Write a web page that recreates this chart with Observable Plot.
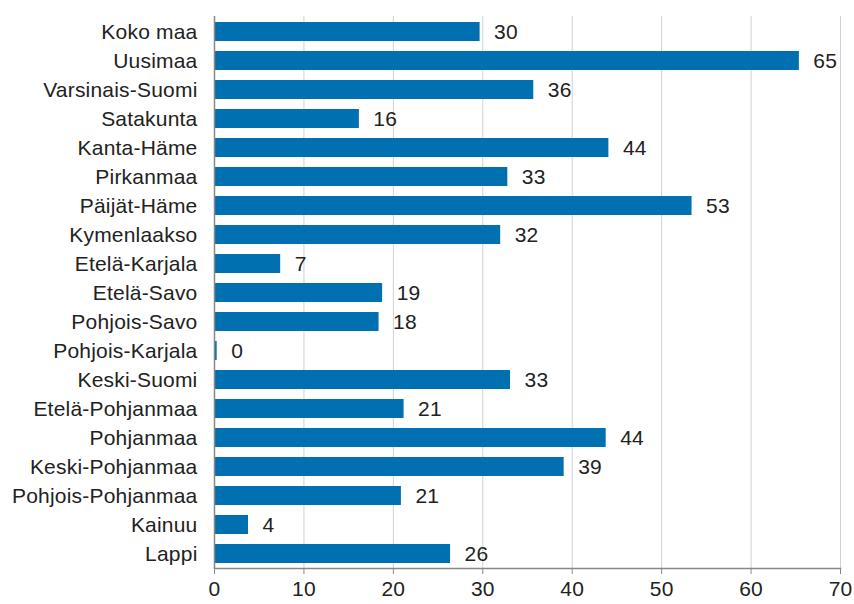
<!DOCTYPE html>
<html>
<head>
<meta charset="utf-8">
<script src="https://cdn.jsdelivr.net/npm/d3@7"></script>
<script src="https://cdn.jsdelivr.net/npm/@observablehq/plot@0.6"></script>
<style>
  html, body { margin: 0; padding: 0; background: #fff; }
  #chart svg { display: block; }
  #chart svg text { letter-spacing: 0.2px; }
</style>
</head>
<body>
<div id="chart"></div>
<script>
const regions = ["Koko maa","Uusimaa","Varsinais-Suomi","Satakunta","Kanta-Häme","Pirkanmaa","Päijät-Häme","Kymenlaakso","Etelä-Karjala","Etelä-Savo","Pohjois-Savo","Pohjois-Karjala","Keski-Suomi","Etelä-Pohjanmaa","Pohjanmaa","Keski-Pohjanmaa","Pohjois-Pohjanmaa","Kainuu","Lappi"];
const values = [29.7,65.4,35.7,16.2,44.1,32.8,53.4,32.0,7.4,18.8,18.4,0.3,33.1,21.2,43.8,39.1,20.9,3.8,26.4];
const xTicks = [0,10,20,30,40,50,60,70];

const data = regions.map((r, i) => ({region: r, value: values[i], label: String(Math.round(values[i]))}));

const FS = 21;
const chart = Plot.plot({
  width: 854,
  height: 604,
  marginLeft: 214,
  marginRight: 14,
  marginTop: 16,
  marginBottom: 36,
  style: {fontFamily: "'Liberation Sans', Arial, sans-serif", fontSize: FS + "px", color: "#222", background: "#fff"},
  x: {domain: [0, 70], ticks: xTicks, label: null},
  y: {domain: regions, label: null, paddingInner: 0.36, paddingOuter: 0.18},
  marks: [
    Plot.gridX(xTicks.slice(1), {stroke: "#d0d0d0", strokeOpacity: 1}),
    Plot.barX(data, {x: "value", y: "region", fill: "#0070b0"}),
    Plot.text(data, {x: "value", y: "region", text: "label", textAnchor: "start", dx: 14, fontSize: FS, fill: "#222"}),
    Plot.ruleX([0], {stroke: "#888", strokeWidth: 1.5}),
    Plot.frame({anchor: "bottom", stroke: "#888", strokeWidth: 1.5}),
    Plot.axisX(xTicks, {tickSize: 6, tickPadding: 7, stroke: "#888", fontSize: FS, fill: "#222"}),
    Plot.axisY({tickSize: 0, tickPadding: 17, fontSize: FS, fill: "#222"})
  ]
});
document.getElementById("chart").appendChild(chart);
</script>
</body>
</html>
